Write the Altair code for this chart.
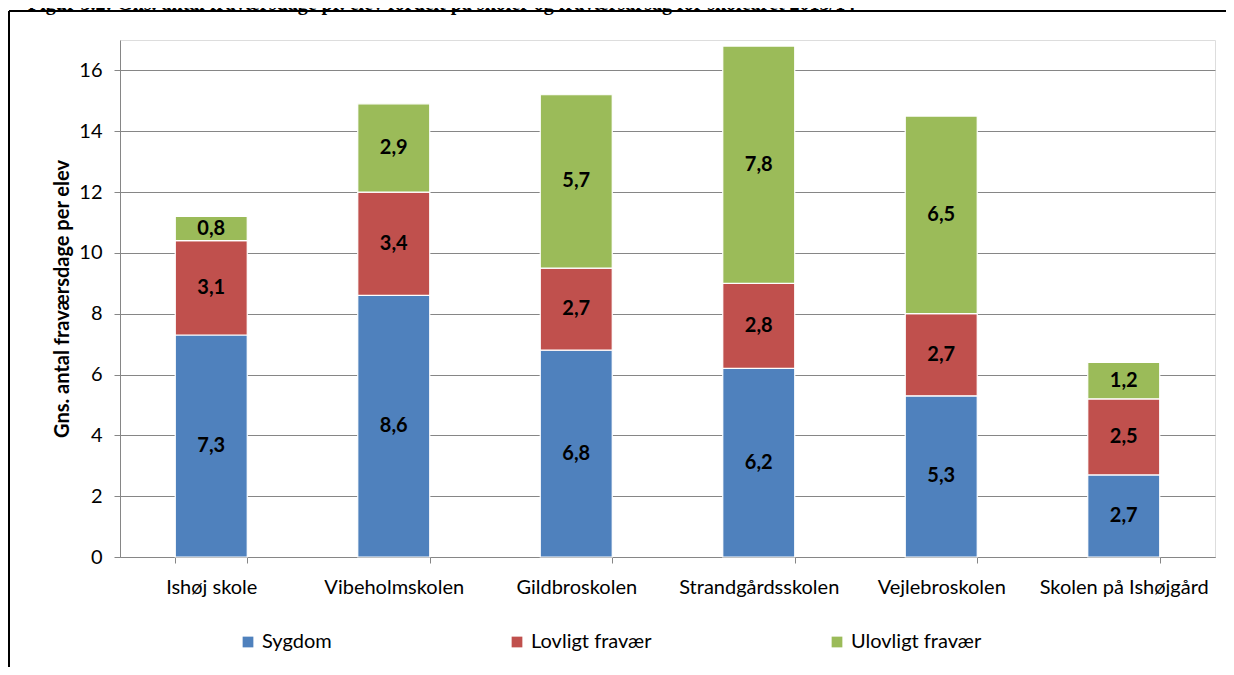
import altair as alt
import pandas as pd

title_text = "Figur 3.2: Gns. antal fraværsdage pr. elev fordelt på skoler og fraværsårsag for skoleåret 2013/14"
y_title = "Gns. antal fraværsdage per elev"
schools = ["Ishøj skole", "Vibeholmskolen", "Gildbroskolen", "Strandgårdsskolen",
           "Vejlebroskolen", "Skolen på Ishøjgård"]
causes = ["Sygdom", "Lovligt fravær", "Ulovligt fravær"]
sygdom = [7.3, 8.6, 6.8, 6.2, 5.3, 2.7]
lovligt = [3.1, 3.4, 2.7, 2.8, 2.7, 2.5]
ulovligt = [0.8, 2.9, 5.7, 7.8, 6.5, 1.2]
colors = ["#4F81BD", "#C0504D", "#9BBB59"]
y_ticks = [0, 2, 4, 6, 8, 10, 12, 14, 16]

rows = []
for i, s in enumerate(schools):
    base = 0.0
    for j, (c, vals) in enumerate(zip(causes, [sygdom, lovligt, ulovligt])):
        v = vals[i]
        rows.append(dict(skole=s, aarsag=c, orden=j, vaerdi=v, start=base,
                         slut=base + v, midt=base + v / 2,
                         tekst=f"{v:.1f}".replace(".", ",")))
        base += v
df = pd.DataFrame(rows)

W, H = 1095, 517
FONT = "Lato"
FS = 20

x_enc = alt.X("skole:N", sort=schools,
              scale=alt.Scale(paddingInner=0.6055, paddingOuter=0.3028),
              axis=alt.Axis(title=None, tickBand="extent", labelAngle=0,
                            labelFont=FONT, labelFontSize=FS, labelColor="black",
                            labelPadding=14, tickSize=6, tickColor="#868686",
                            domainColor="#868686", grid=False, labelLimit=300))
y_scale = alt.Scale(domain=[0, 17], nice=False, zero=True)

bars = alt.Chart(df).mark_bar(stroke="white", strokeWidth=1.2).encode(
    x=x_enc,
    y=alt.Y("start:Q", scale=y_scale,
            axis=alt.Axis(values=y_ticks, title=y_title, titleFont=FONT,
                          titleFontSize=20, titleFontWeight="bold", titleColor="black",
                          titlePadding=6, labelFont=FONT, labelFontSize=FS,
                          labelColor="black", labelPadding=12, tickSize=6,
                          tickColor="#868686", domainColor="#868686",
                          grid=True, gridColor="#868686", gridWidth=1)),
    y2="slut:Q",
    color=alt.Color("aarsag:N", sort=causes,
                    scale=alt.Scale(domain=causes, range=colors),
                    legend=alt.Legend(title=None, orient="none", legendX=118, legendY=592,
                                      direction="horizontal", columns=3,
                                      columnPadding=175, symbolType="square",
                                      symbolSize=115, symbolStrokeWidth=0,
                                      labelFont=FONT, labelFontSize=FS,
                                      labelColor="black", labelLimit=300)),
    order=alt.Order("orden:Q"),
)

labels = alt.Chart(df).mark_text(font=FONT, fontSize=20, fontWeight="bold",
                                 color="black").encode(
    x=alt.X("skole:N", sort=schools),
    y=alt.Y("midt:Q", scale=y_scale),
    text="tekst:N",
)

one = pd.DataFrame({"t": [title_text]})
frame_top = alt.Chart(one).mark_rule(color="black", strokeWidth=2).encode(
    x=alt.value(-111), x2=alt.value(W + 30), y=alt.value(-29))
frame_left = alt.Chart(one).mark_rule(color="black", strokeWidth=2).encode(
    x=alt.value(-111), y=alt.value(-29), y2=alt.value(H + 130))
title = alt.Chart(one).mark_text(align="left", baseline="alphabetic",
                                 font="Liberation Serif", fontWeight="bold",
                                 fontSize=20, color="black").encode(
    x=alt.value(-92), y=alt.value(-30), text="t:N")

chart = alt.layer(bars, labels, frame_top, frame_left, title).properties(
    width=W, height=H,
    padding={"left": 112, "top": 32, "right": 11, "bottom": 110},
    autosize=alt.AutoSizeParams(type="none"),
).configure_view(stroke=None).configure(background="white")

chart.save("out.html", embed_options={"renderer": "svg", "actions": False})
